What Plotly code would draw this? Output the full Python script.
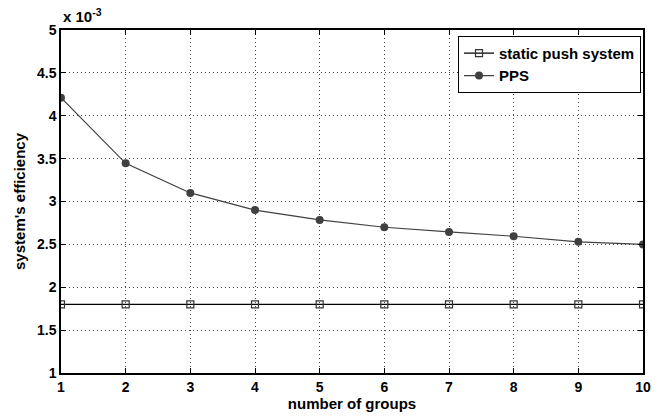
import plotly.graph_objects as go

groups = [1, 2, 3, 4, 5, 6, 7, 8, 9, 10]
static_push = [1.8e-3] * 10
pps = [4.21e-3, 3.445e-3, 3.10e-3, 2.90e-3, 2.785e-3, 2.70e-3, 2.645e-3, 2.595e-3, 2.53e-3, 2.50e-3]
y_tick_vals = [1e-3, 1.5e-3, 2e-3, 2.5e-3, 3e-3, 3.5e-3, 4e-3, 4.5e-3, 5e-3]
y_tick_text = ["1", "1.5", "2", "2.5", "3", "3.5", "4", "4.5", "5"]

FONT = "Liberation Sans, Arial, Helvetica, sans-serif"

fig = go.Figure()
fig.add_trace(go.Scatter(
    x=groups, y=static_push, name="<b>static push system</b>",
    mode="lines+markers",
    line=dict(color="#000000", width=1.2),
    marker=dict(symbol="square-open", size=7, color="#333333", line=dict(width=1.2)),
))
fig.add_trace(go.Scatter(
    x=groups, y=pps, name="<b>PPS</b>",
    mode="lines+markers",
    line=dict(color="#404040", width=1.2),
    marker=dict(symbol="circle", size=8, color="#404040"),
))

axis_common = dict(
    showline=True, linecolor="#000000", linewidth=1.5, mirror="ticks",
    ticks="inside", ticklen=5, tickcolor="#000000", tickwidth=1,
    showgrid=True, gridcolor="#444444", griddash="1px,3px", gridwidth=1,
    zeroline=False, automargin=False,
    tickfont=dict(family=FONT, size=14, color="#000000", weight="bold"),
)

fig.update_layout(
    width=664, height=416,
    margin=dict(l=61, r=21, t=30, b=43),
    paper_bgcolor="#ffffff", plot_bgcolor="#ffffff",
    font=dict(family=FONT, color="#000000"),
    showlegend=True,
    legend=dict(
        x=0.9966, y=0.983, xanchor="right", yanchor="top",
        bgcolor="#ffffff", bordercolor="#000000", borderwidth=1,
        font=dict(family=FONT, size=15, color="#000000"),
        tracegroupgap=0,
    ),
    xaxis=dict(
        range=[1, 10], tickvals=groups, ticktext=["<b>%d</b>" % g for g in groups],
        title=dict(text="<b>number of groups</b>", font=dict(family=FONT, size=15), standoff=3),
        **axis_common,
    ),
    yaxis=dict(
        range=[1e-3, 5e-3], tickvals=y_tick_vals, ticktext=["<b>%s</b>" % t for t in y_tick_text],
        title=dict(text="<b>system's efficiency</b>", font=dict(family=FONT, size=15), standoff=8),
        **axis_common,
    ),
)

fig.add_annotation(
    text="<b>x 10<sup>-3</sup></b>", xref="paper", yref="paper",
    x=0.0, y=1.0, xanchor="left", yanchor="bottom", yshift=3, xshift=0,
    showarrow=False, font=dict(family=FONT, size=15, color="#000000"),
)

fig.write_html("out.html", config={"displayModeBar": False},
               post_script="document.body.style.margin='0';")
